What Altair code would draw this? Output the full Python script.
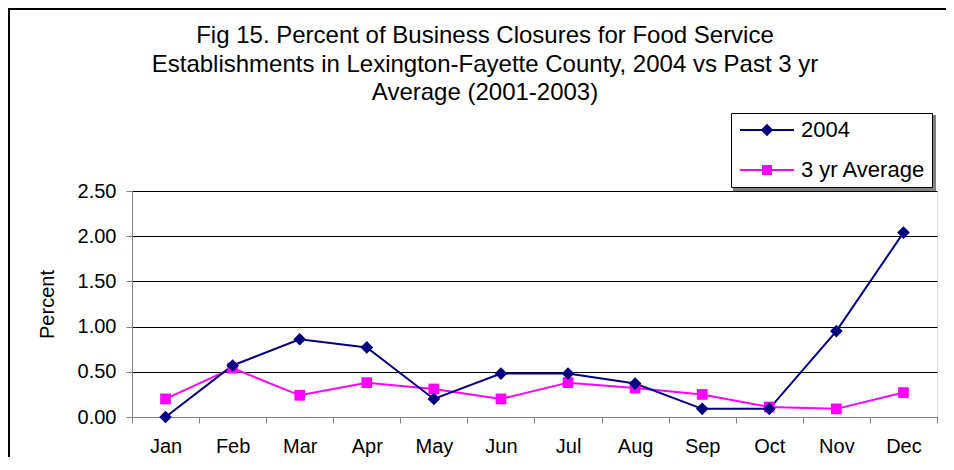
import altair as alt
import pandas as pd

months = ["Jan", "Feb", "Mar", "Apr", "May", "Jun", "Jul", "Aug", "Sep", "Oct", "Nov", "Dec"]
series_names = ["2004", "3 yr Average"]
values_2004 = [0.00, 0.57, 0.86, 0.77, 0.20, 0.48, 0.48, 0.37, 0.09, 0.09, 0.95, 2.04]
values_avg = [0.20, 0.54, 0.24, 0.38, 0.31, 0.20, 0.38, 0.32, 0.25, 0.11, 0.09, 0.27]
y_ticks = [0.0, 0.5, 1.0, 1.5, 2.0, 2.5]
title_lines = [
    "Fig 15. Percent of Business Closures for Food Service",
    "Establishments in Lexington-Fayette County, 2004 vs Past 3 yr",
    "Average (2001-2003)",
]

NAVY = "#000080"
MAGENTA = "#FF00FF"
FONT = "Liberation Sans"

rows = []
for m, v in zip(months, values_2004):
    rows.append({"month": m, "series": series_names[0], "value": v})
for m, v in zip(months, values_avg):
    rows.append({"month": m, "series": series_names[1], "value": v})
df = pd.DataFrame(rows)

W, H = 805, 226

x_enc = alt.X(
    "month:N",
    sort=months,
    scale=alt.Scale(type="band", paddingInner=0, paddingOuter=0),
    axis=alt.Axis(
        title=None, labelAngle=0, tickBand="extent", tickSize=6,
        labelPadding=13, labelFontSize=20, labelFont=FONT, labelColor="black",
        domainColor="#808080", tickColor="#808080", grid=False,
    ),
)
y_enc = alt.Y(
    "value:Q",
    scale=alt.Scale(domain=[0, 2.5], nice=False, zero=True),
    axis=alt.Axis(
        values=y_ticks, format=".2f", title="Percent", grid=True,
        gridColor="#000000", gridWidth=1, tickSize=6, tickColor="#808080",
        domainColor="#808080", labelPadding=10, labelFontSize=20,
        labelFont=FONT, labelColor="black", titleFont=FONT, titleFontSize=20,
        titleFontWeight="normal", titleColor="black", titleAngle=270,
        titleX=-85, titleY=113, titleAlign="center", titleBaseline="middle",
    ),
)

base = alt.Chart(df)

line_2004 = base.transform_filter(alt.datum.series == series_names[0]).mark_line(
    color=NAVY, strokeWidth=2
).encode(x=x_enc, y=y_enc)
line_avg = base.transform_filter(alt.datum.series == series_names[1]).mark_line(
    color=MAGENTA, strokeWidth=2
).encode(x=x_enc, y=y_enc)
pts_2004 = base.transform_filter(alt.datum.series == series_names[0]).mark_point(
    shape="diamond", filled=True, color=NAVY, size=160, opacity=1
).encode(x=x_enc, y=y_enc)
pts_avg = base.transform_filter(alt.datum.series == series_names[1]).mark_point(
    shape="square", filled=True, color=MAGENTA, size=115, opacity=1
).encode(x=x_enc, y=y_enc)

leg_shapes = [
    "M-2.6,-0.1L2.6,-0.1L2.6,0.1L-2.6,0.1Z M0,-0.6L0.6,0L0,0.6L-0.6,0Z",
    "M-2.6,-0.1L2.6,-0.1L2.6,0.1L-2.6,0.1Z M-0.48,-0.48L0.48,-0.48L0.48,0.48L-0.48,0.48Z",
]
legend = alt.Legend(
    title=None, orient="none", legendX=599, legendY=-78,
    strokeColor="black", fillColor="white", padding=6,
    symbolSize=432, symbolOpacity=1, symbolStrokeWidth=0,
    symbolOffset=19, labelOffset=23, rowPadding=18,
    labelFont=FONT, labelFontSize=22, labelColor="black",
)
legend_layer = base.mark_point(filled=True, opacity=0).encode(
    x=x_enc, y=y_enc,
    color=alt.Color("series:N", scale=alt.Scale(domain=series_names, range=[NAVY, MAGENTA]), legend=legend),
    shape=alt.Shape("series:N", scale=alt.Scale(domain=series_names, range=leg_shapes), legend=legend),
)

one = pd.DataFrame({"k": [0]})
shadow = alt.Chart(one).mark_rect(color="#808080").encode(
    x=alt.value(601), x2=alt.value(804), y=alt.value(-76), y2=alt.value(0)
)
frame_left = alt.Chart(one).mark_rule(color="black", strokeWidth=2).encode(
    x=alt.value(-123), y=alt.value(-183), y2=alt.value(H + 40)
)
frame_top = alt.Chart(one).mark_rule(color="black", strokeWidth=2).encode(
    x=alt.value(-124), x2=alt.value(W + 9), y=alt.value(-182)
)

title_y = [-148, -119.5, -91]
title_layers = [
    alt.Chart(one).mark_text(
        font=FONT, fontSize=24, color="black", align="center", baseline="alphabetic"
    ).encode(x=alt.value(353), y=alt.value(ty), text=alt.value(t))
    for t, ty in zip(title_lines, title_y)
]

chart = alt.layer(
    frame_left, frame_top, shadow, line_avg, line_2004, pts_avg, pts_2004, legend_layer,
    *title_layers,
).properties(
    width=W, height=H,
    autosize=alt.AutoSizeParams(type="none"),
    padding={"left": 124, "top": 183, "right": 9, "bottom": 40},
).configure_view(stroke=None).configure(background="white")

chart.save("out.html", embed_options={"renderer": "svg", "actions": False})
